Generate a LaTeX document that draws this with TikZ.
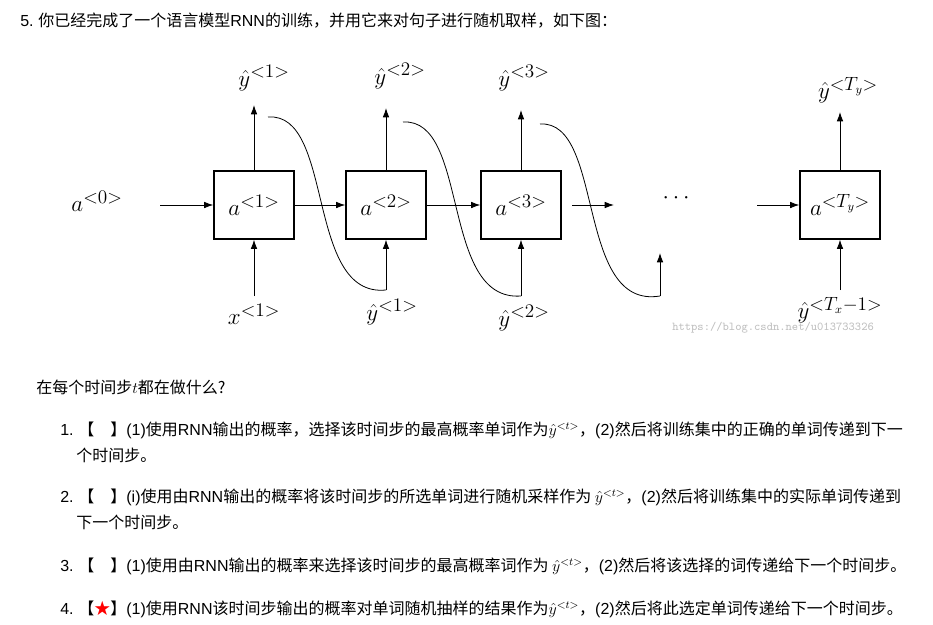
\documentclass[tikz,border=0pt]{standalone}
\usepackage{fontspec}
\setmainfont{Noto Sans CJK SC}
\newfontfamily\lsans{Liberation Sans}
\usetikzlibrary{arrows.meta}
\begin{document}
\begin{tikzpicture}[x=0.75pt,y=-0.75pt,
 box/.style={draw,line width=0.9pt,minimum width=60pt,minimum height=51pt,inner sep=0pt,font=\fontsize{19}{22}\selectfont},
 arr/.style={-{Latex[length=7pt,width=5pt]},line width=0.7pt},
 lab/.style={font=\fontsize{19}{22}\selectfont,inner sep=0pt},
 txt/.style={anchor=west,inner sep=0pt,font=\fontsize{12}{14}\selectfont}]
\useasboundingbox (0,0) rectangle (933,625);
\node[txt] (title) at (20,21) {{\lsans 5.} 你已经完成了一个语言模型{\lsans RNN}的训练，并用它来对句子进行随机取样，如下图：};
% boxes
\node[box] (b1) at (254,205) {$a^{<1>}$};
\node[box] (b2) at (386,205) {$a^{<2>}$};
\node[box] (b3) at (521,205) {$a^{<3>}$};
\node[box] (b4) at (840,205) {$a^{<T_y>}$};
\node[lab] (a0) at (97,201) {$a^{<0>}$};
\node[lab] (dots) at (676,198) {$\cdots$};
\coordinate (s0) at (160,205);
\coordinate (s3) at (572,205);
\coordinate (s4) at (757,205);
\draw[arr] (s0) -- (b1.west);
\draw[arr] (b1.east) -- (b2.west);
\draw[arr] (b2.east) -- (b3.west);
\draw[arr] (s3) -- (614,205);
\draw[arr] (s4) -- (b4.west);
% top outputs
\node[lab] (y1) at (264,78) {$\hat y^{<1>}$};
\node[lab] (y2) at (400,76) {$\hat y^{<2>}$};
\node[lab] (y3) at (524,78) {$\hat y^{<3>}$};
\node[lab] (yT) at (848,90) {$\hat y^{<T_y>}$};
\coordinate (t1) at (254,105);\coordinate (t2) at (386,108);\coordinate (t3) at (521,110);\coordinate (t4) at (840,112);
\draw[arr] (b1.north) -- (t1);
\draw[arr] (b2.north) -- (t2);
\draw[arr] (b3.north) -- (t3);
\draw[arr] (b4.north) -- (t4);
% bottom inputs
\node[lab] (x1) at (254,314) {$x^{<1>}$};
\node[lab] (yb1) at (392,312) {$\hat y^{<1>}$};
\node[lab] (yb2) at (524,318) {$\hat y^{<2>}$};
\node[lab] (ybT) at (840,310) {$\hat y^{<T_x-1>}$};
\coordinate (p1) at (254,296);
\coordinate (p2) at (386,290);\coordinate (p3) at (521,296);\coordinate (p4) at (660,296);
\coordinate (p5) at (840,290);
\draw[arr] (p1) -- (b1.south);
\draw[arr] (p2) -- (b2.south);
\draw[arr] (p3) -- (b3.south);
\draw[arr] (p4) -- (660,253);
\draw[arr] (p5) -- (b4.south);
% feedback curves
\coordinate (c1) at (268,117);\coordinate (c2) at (403,122);\coordinate (c3) at (540,124);
\draw[line width=0.6pt] (c1) .. controls (335,112) and (305,298) .. (p2);
\draw[line width=0.6pt] (c2) .. controls (470,118) and (440,302) .. (p3);
\draw[line width=0.6pt] (c3) .. controls (605,120) and (575,310) .. (p4);
\node[anchor=west,inner sep=0pt,text=black!25,font=\ttfamily\small] (wm) at (672,328) {https://blog.csdn.net/u013733326};
% question text
\node[txt] (q) at (36,387) {在每个时间步$t$都在做什么?};
\node[txt] (i1) at (60,430) {{\lsans 1.} 【\hspace{1em}】{\lsans (1)}使用{\lsans RNN}输出的概率，选择该时间步的最高概率单词作为$\hat y^{<t>}$，{\lsans (2)}然后将训练集中的正确的单词传递到下一};
\node[txt] (i1b) at (76,455) {个时间步。};
\node[txt] (i2) at (60,497) {{\lsans 2.} 【\hspace{1em}】{\lsans (i)}使用由{\lsans RNN}输出的概率将该时间步的所选单词进行随机采样作为 $\hat y^{<t>}$，{\lsans (2)}然后将训练集中的实际单词传递到};
\node[txt] (i2b) at (76,522) {下一个时间步。};
\node[txt] (i3) at (60,566) {{\lsans 3.} 【\hspace{1em}】{\lsans (1)}使用由{\lsans RNN}输出的概率来选择该时间步的最高概率词作为 $\hat y^{<t>}$，{\lsans (2)}然后将该选择的词传递给下一个时间步。};
\node[txt] (i4) at (60,609) {{\lsans 4.} 【\textcolor{red}{★}】{\lsans (1)}使用{\lsans RNN}该时间步输出的概率对单词随机抽样的结果作为$\hat y^{<t>}$，{\lsans (2)}然后将此选定单词传递给下一个时间步。};
\end{tikzpicture}
\end{document}
